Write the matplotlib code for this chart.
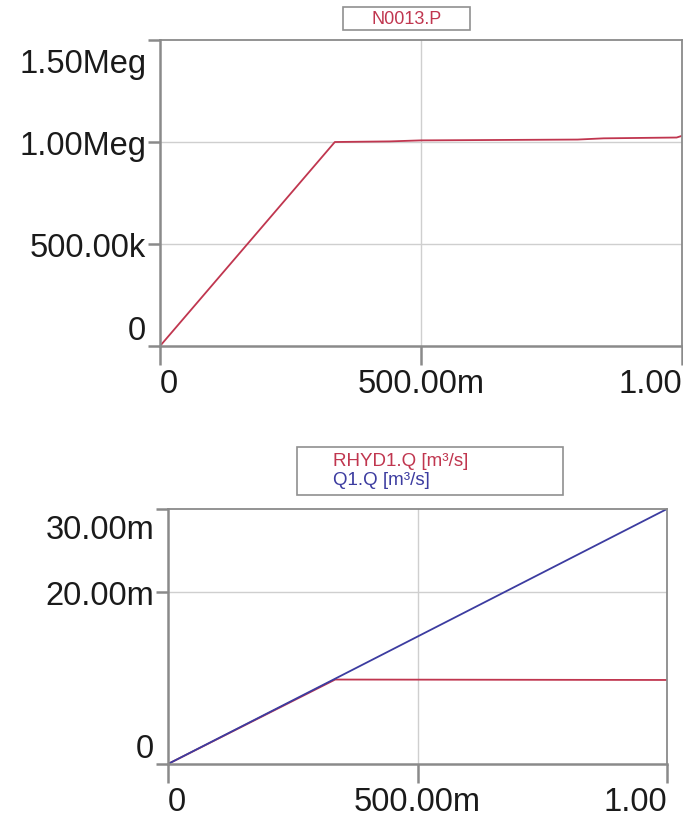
import matplotlib
matplotlib.use("Agg")
import matplotlib.pyplot as plt
import matplotlib.transforms as mtransforms

plt.rcParams['font.family'] = ['Liberation Sans', 'DejaVu Sans']

# top chart: pressure N0013.P
t_p = [0.0, 0.335, 0.44, 0.50, 0.80, 0.85, 0.99, 1.0]
p = [0.0, 1.000e6, 1.003e6, 1.008e6, 1.012e6, 1.018e6, 1.022e6, 1.030e6]

# bottom chart: flows
t_q = [0.0, 0.335, 1.0]
rhyd1_q = [0.0, 9.8e-3, 9.75e-3]
q1_q = [0.0, 9.9e-3, 29.6e-3]

xticks = [0.0, 0.5, 1.0]
xlabels = ['0', '500.00m', '1.00']
p_ticks = [0.0, 0.5e6, 1.0e6, 1.5e6]
p_labels = ['0', '500.00k', '1.00Meg', '1.50Meg']
q_ticks = [0.0, 20e-3, 29.6e-3]
q_labels = ['0', '20.00m', '30.00m']

red = '#c0364f'
blue = '#3c3ca0'
spine = '#8a8a8a'
grid = '#cfcfcf'

fig = plt.figure(figsize=(6.83, 8.2), dpi=100)
ax1 = fig.add_axes([0.2343, 0.5768, 0.764, 0.3732])
ax2 = fig.add_axes([0.246, 0.0671, 0.7306, 0.311])


def style(ax, yt, yl, ylim, grid_y, top_shift):
    ax.set_xlim(0, 1.0)
    ax.set_ylim(*ylim)
    ax.set_xticks(xticks)
    ax.set_xticklabels(xlabels)
    ax.set_yticks(yt)
    ax.set_yticklabels(yl)
    for s in ax.spines.values():
        s.set_color(spine)
        s.set_linewidth(1.3)
    ax.spines['left'].set_linewidth(1.8)
    ax.spines['bottom'].set_linewidth(1.8)
    ax.tick_params(axis='x', length=14, width=1.8, color=spine, labelsize=23.5,
                   pad=2, labelcolor='#1a1a1a')
    ax.tick_params(axis='y', length=9, width=1.8, color=spine, labelsize=23.5,
                   pad=1, labelcolor='#1a1a1a')
    xlabs = ax.get_xticklabels()
    xlabs[0].set_ha('left')
    xlabs[-1].set_ha('right')
    ylabs = ax.get_yticklabels()
    ylabs[0].set_va('bottom')
    ylabs[-1].set_va('top')
    # top label sits a little lower than the axis top
    shift = mtransforms.ScaledTranslation(0, -top_shift / 100, fig.dpi_scale_trans)
    ylabs[-1].set_transform(ylabs[-1].get_transform() + shift)
    ax.axvline(0.5, color=grid, lw=1, zorder=0)
    for g in grid_y:
        ax.axhline(g, color=grid, lw=1, zorder=0)


style(ax1, p_ticks, p_labels, (0, 1.5e6), [0.5e6, 1.0e6], 8)
ax1.plot(t_p, p, color=red, lw=1.3)

style(ax2, q_ticks, q_labels, (0, 29.6e-3), [20e-3], 5)
ax2.plot(t_q, rhyd1_q, color=red, lw=1.3)
ax2.plot(t_q, q1_q, color=blue, lw=1.3)

# legend boxes
fig.add_artist(plt.Rectangle((0.502, 0.962), 0.186, 0.028, transform=fig.transFigure,
                             fill=False, ec='#909090', lw=1.2))
fig.text(0.595, 0.9765, 'N0013.P', color=red, fontsize=13, ha='center', va='center')

fig.add_artist(plt.Rectangle((0.435, 0.395), 0.389, 0.059, transform=fig.transFigure,
                             fill=False, ec='#909090', lw=1.2))
fig.text(0.4875, 0.4366, 'RHYD1.Q [m\u00b3/s]', color=red, fontsize=13.5, ha='left', va='center')
fig.text(0.4875, 0.4146, 'Q1.Q [m\u00b3/s]', color=blue, fontsize=13.5, ha='left', va='center')

fig.savefig('out.png', dpi=100)
